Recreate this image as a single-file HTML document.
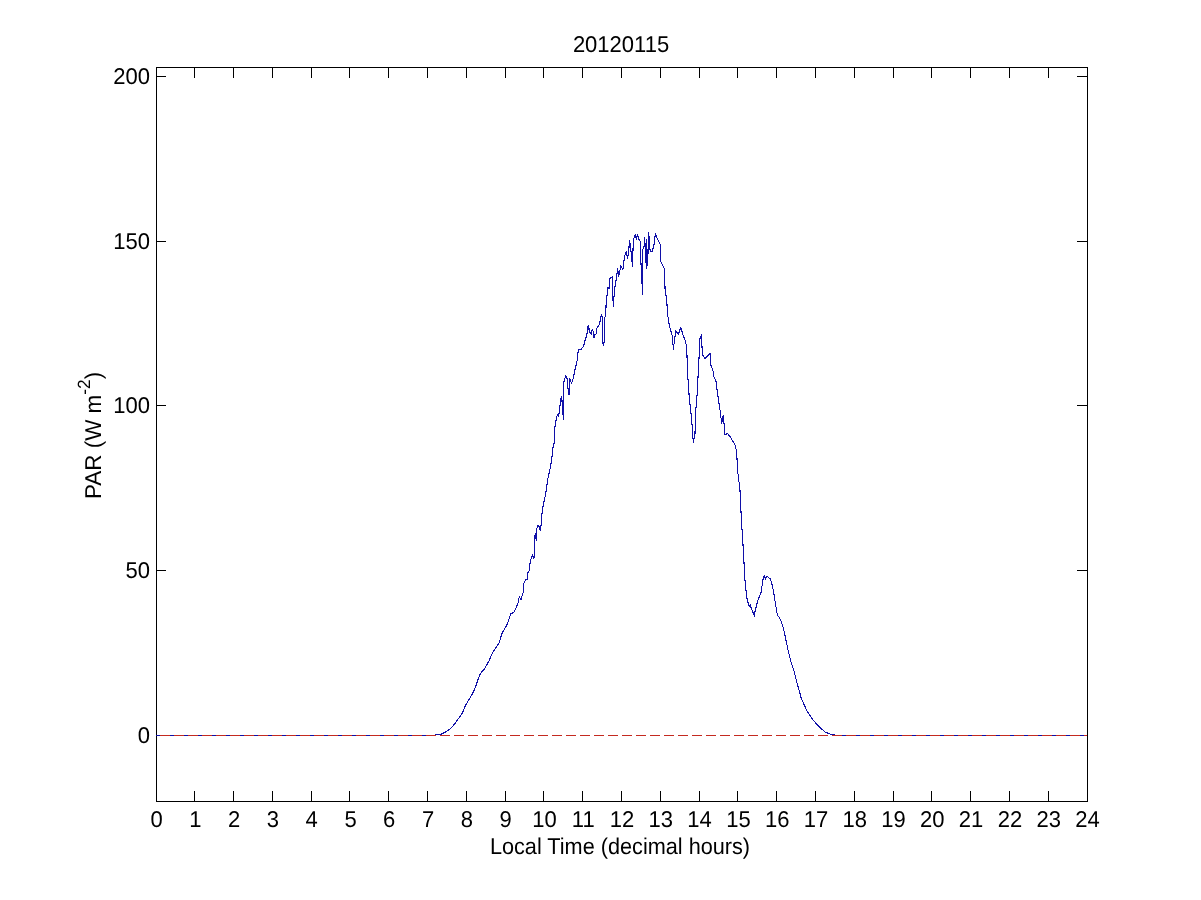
<!DOCTYPE html>
<html><head><meta charset="utf-8"><style>
html,body{margin:0;padding:0;background:#fff;width:1201px;height:900px;overflow:hidden}
svg{position:absolute;left:0;top:0;will-change:transform}
text{font-family:"Liberation Sans",sans-serif;font-size:22px;fill:#000;text-rendering:geometricPrecision}
</style></head><body>
<svg width="1201" height="900" viewBox="0 0 1201 900">
<rect width="1201" height="900" fill="#fff"/>
<g shape-rendering="crispEdges">
<rect x="156.5" y="67.5" width="931" height="734" fill="none" stroke="#000" stroke-width="1"/>
<path d="M194.5 801.5V791M194.5 67V77.5M233.5 801.5V791M233.5 67V77.5M272.5 801.5V791M272.5 67V77.5M311.5 801.5V791M311.5 67V77.5M349.5 801.5V791M349.5 67V77.5M388.5 801.5V791M388.5 67V77.5M427.5 801.5V791M427.5 67V77.5M466.5 801.5V791M466.5 67V77.5M505.5 801.5V791M505.5 67V77.5M543.5 801.5V791M543.5 67V77.5M582.5 801.5V791M582.5 67V77.5M621.5 801.5V791M621.5 67V77.5M660.5 801.5V791M660.5 67V77.5M699.5 801.5V791M699.5 67V77.5M737.5 801.5V791M737.5 67V77.5M776.5 801.5V791M776.5 67V77.5M815.5 801.5V791M815.5 67V77.5M854.5 801.5V791M854.5 67V77.5M893.5 801.5V791M893.5 67V77.5M931.5 801.5V791M931.5 67V77.5M970.5 801.5V791M970.5 67V77.5M1009.5 801.5V791M1009.5 67V77.5M1048.5 801.5V791M1048.5 67V77.5M156 735.5H166M1087.5 735.5H1077M156 570.5H166M1087.5 570.5H1077M156 405.5H166M1087.5 405.5H1077M156 241.5H166M1087.5 241.5H1077M156 76.5H166M1087.5 76.5H1077" stroke="#000" stroke-width="1" fill="none"/>
<path d="M156.0 735.5 L432.0 735.5 L440.5 734.4 L445.0 732.2 L450.0 728.9 L453.3 725.6 L456.7 721.1 L462.2 713.3 L464.4 707.8 L466.7 703.3 L470.0 697.8 L472.2 694.4 L475.6 686.7 L477.8 680.0 L480.6 673.3 L484.4 668.9 L488.9 661.1 L492.2 653.3 L496.7 646.7 L499.4 642.2 L501.6 634.1 L507.1 624.4 L509.0 619.1 L510.8 613.8 L513.9 612.4 L516.1 607.6 L518.3 602.2 L519.2 596.9 L521.0 599.6 L521.9 596.0 L523.7 591.6 L523.7 583.6 L525.4 580.0 L527.2 579.1 L527.7 572.9 L529.0 571.1 L530.3 561.3 L531.7 556.9 L532.6 554.7 L533.4 558.7 L534.3 556.9 L534.4 536.7 L535.3 533.9 L536.4 540.6 L536.4 530.6 L537.5 526.1 L538.6 525.3 L539.4 527.8 L540.4 530.3 L541.1 525.0 L541.7 515.6 L542.5 510.0 L543.3 503.9 L544.4 500.0 L546.1 491.3 L547.7 479.2 L549.9 469.6 L551.8 459.4 L552.5 449.2 L554.4 442.1 L554.6 430.0 L555.4 423.8 L556.6 416.8 L557.8 414.4 L558.6 416.8 L559.7 407.4 L560.9 398.9 L561.7 396.5 L562.8 412.1 L563.6 419.5 L563.6 383.3 L564.8 378.7 L565.9 375.6 L567.1 378.7 L567.9 388.0 L569.1 395.0 L569.8 378.7 L571.4 383.3 L572.2 381.8 L573.3 377.9 L574.9 370.1 L576.0 365.4 L577.3 360.0 L578.3 349.3 L580.0 349.7 L581.0 349.3 L583.7 346.0 L585.0 340.7 L586.0 337.3 L587.0 334.0 L587.7 328.0 L588.3 325.3 L589.0 328.7 L589.3 332.7 L590.3 332.7 L591.3 334.3 L592.3 329.3 L593.3 332.0 L594.0 338.0 L595.0 334.7 L596.3 334.0 L596.7 328.7 L598.0 326.7 L599.7 324.0 L600.7 317.3 L601.7 314.7 L602.3 318.7 L603.0 343.3 L603.7 345.3 L604.3 340.0 L604.7 317.3 L605.7 316.0 L606.0 306.0 L606.7 300.0 L607.2 293.3 L607.8 287.2 L609.1 288.5 L609.7 278.7 L612.1 276.8 L613.3 306.8 L614.6 288.5 L616.4 278.7 L617.6 268.9 L618.8 276.2 L620.8 265.8 L622.9 269.2 L624.6 255.8 L626.3 251.7 L627.5 258.3 L628.3 255.0 L629.6 240.4 L630.8 249.2 L632.1 262.5 L632.5 266.3 L633.3 240.8 L634.6 235.8 L635.4 234.2 L636.3 240.0 L637.5 234.6 L638.8 239.2 L640.4 241.7 L640.8 260.0 L642.1 284.2 L642.5 294.6 L642.9 249.2 L644.2 245.8 L644.6 237.5 L645.4 249.2 L646.3 268.3 L646.7 240.0 L647.5 265.8 L648.8 232.5 L649.6 248.3 L650.8 251.7 L652.1 251.7 L653.8 245.8 L655.4 233.3 L657.1 238.3 L660.4 245.0 L660.8 261.7 L662.5 265.0 L664.6 269.2 L665.0 288.3 L666.7 300.0 L667.5 313.3 L669.2 325.0 L672.5 336.7 L673.3 349.2 L675.8 330.8 L678.3 334.2 L680.8 327.5 L683.3 335.8 L685.0 340.0 L686.7 346.7 L687.5 371.7 L689.2 396.7 L691.7 420.0 L693.3 442.5 L695.0 433.3 L695.8 410.0 L697.5 390.0 L698.3 370.0 L699.2 355.0 L700.0 338.3 L701.3 335.0 L702.5 355.0 L705.0 358.3 L707.5 355.8 L710.0 353.3 L710.8 365.0 L713.3 371.7 L714.2 378.3 L715.8 380.0 L717.5 393.3 L720.0 410.0 L721.7 423.3 L723.3 415.0 L725.0 435.0 L727.5 433.3 L730.0 436.7 L733.3 441.7 L735.0 445.0 L736.7 451.7 L737.5 470.0 L740.0 490.0 L741.3 518.3 L742.5 536.7 L743.9 560.0 L744.7 577.1 L746.7 597.3 L748.2 603.5 L749.4 606.7 L750.2 604.7 L751.3 608.2 L754.4 616.0 L755.2 610.5 L757.6 601.2 L761.0 592.7 L762.2 584.9 L763.4 577.1 L764.5 575.2 L765.3 579.1 L766.9 576.3 L770.4 579.1 L772.3 585.7 L773.9 593.4 L775.4 603.5 L777.4 615.2 L779.3 617.5 L781.3 621.4 L783.6 629.2 L785.7 638.9 L788.0 649.8 L791.1 662.2 L794.2 671.5 L797.3 684.0 L801.2 698.0 L806.7 710.4 L812.9 719.8 L819.1 726.7 L825.3 732.2 L831.5 734.5 L837.8 735.5 L1087.0 735.5" stroke="#1010a8" stroke-width="1.1" fill="none" stroke-linejoin="round"/>
<path d="M156 735.5H1087" stroke="#c42a20" stroke-width="1.2" fill="none" stroke-dasharray="9.5 4.5" stroke-dashoffset="10"/>
</g>
<g>
<text transform="translate(156.5 827) scale(1 1.04)" text-anchor="middle">0</text><text transform="translate(195.3 827) scale(1 1.04)" text-anchor="middle">1</text><text transform="translate(234.1 827) scale(1 1.04)" text-anchor="middle">2</text><text transform="translate(272.9 827) scale(1 1.04)" text-anchor="middle">3</text><text transform="translate(311.7 827) scale(1 1.04)" text-anchor="middle">4</text><text transform="translate(350.5 827) scale(1 1.04)" text-anchor="middle">5</text><text transform="translate(389.2 827) scale(1 1.04)" text-anchor="middle">6</text><text transform="translate(428.0 827) scale(1 1.04)" text-anchor="middle">7</text><text transform="translate(466.8 827) scale(1 1.04)" text-anchor="middle">8</text><text transform="translate(505.6 827) scale(1 1.04)" text-anchor="middle">9</text><text transform="translate(544.4 827) scale(1 1.04)" text-anchor="middle">10</text><text transform="translate(583.2 827) scale(1 1.04)" text-anchor="middle">11</text><text transform="translate(622.0 827) scale(1 1.04)" text-anchor="middle">12</text><text transform="translate(660.8 827) scale(1 1.04)" text-anchor="middle">13</text><text transform="translate(699.6 827) scale(1 1.04)" text-anchor="middle">14</text><text transform="translate(738.4 827) scale(1 1.04)" text-anchor="middle">15</text><text transform="translate(777.2 827) scale(1 1.04)" text-anchor="middle">16</text><text transform="translate(816.0 827) scale(1 1.04)" text-anchor="middle">17</text><text transform="translate(854.8 827) scale(1 1.04)" text-anchor="middle">18</text><text transform="translate(893.5 827) scale(1 1.04)" text-anchor="middle">19</text><text transform="translate(932.3 827) scale(1 1.04)" text-anchor="middle">20</text><text transform="translate(971.1 827) scale(1 1.04)" text-anchor="middle">21</text><text transform="translate(1009.9 827) scale(1 1.04)" text-anchor="middle">22</text><text transform="translate(1048.7 827) scale(1 1.04)" text-anchor="middle">23</text><text transform="translate(1087.5 827) scale(1 1.04)" text-anchor="middle">24</text>
<text transform="translate(150 743) scale(1 1.04)" text-anchor="end">0</text><text transform="translate(150 578) scale(1 1.04)" text-anchor="end">50</text><text transform="translate(150 413) scale(1 1.04)" text-anchor="end">100</text><text transform="translate(150 249) scale(1 1.04)" text-anchor="end">150</text><text transform="translate(150 84) scale(1 1.04)" text-anchor="end">200</text>
<text transform="translate(621 52) scale(1 1.04)" text-anchor="middle">20120115</text>
<text transform="translate(620 854) scale(0.985 1.04)" text-anchor="middle">Local Time (decimal hours)</text>
<text transform="translate(101 499) rotate(-90) scale(1.02 1.04)">PAR (W m<tspan font-size="17" dy="-11">-2</tspan><tspan dy="11">)</tspan></text>
</g>
</svg>
</body></html>
